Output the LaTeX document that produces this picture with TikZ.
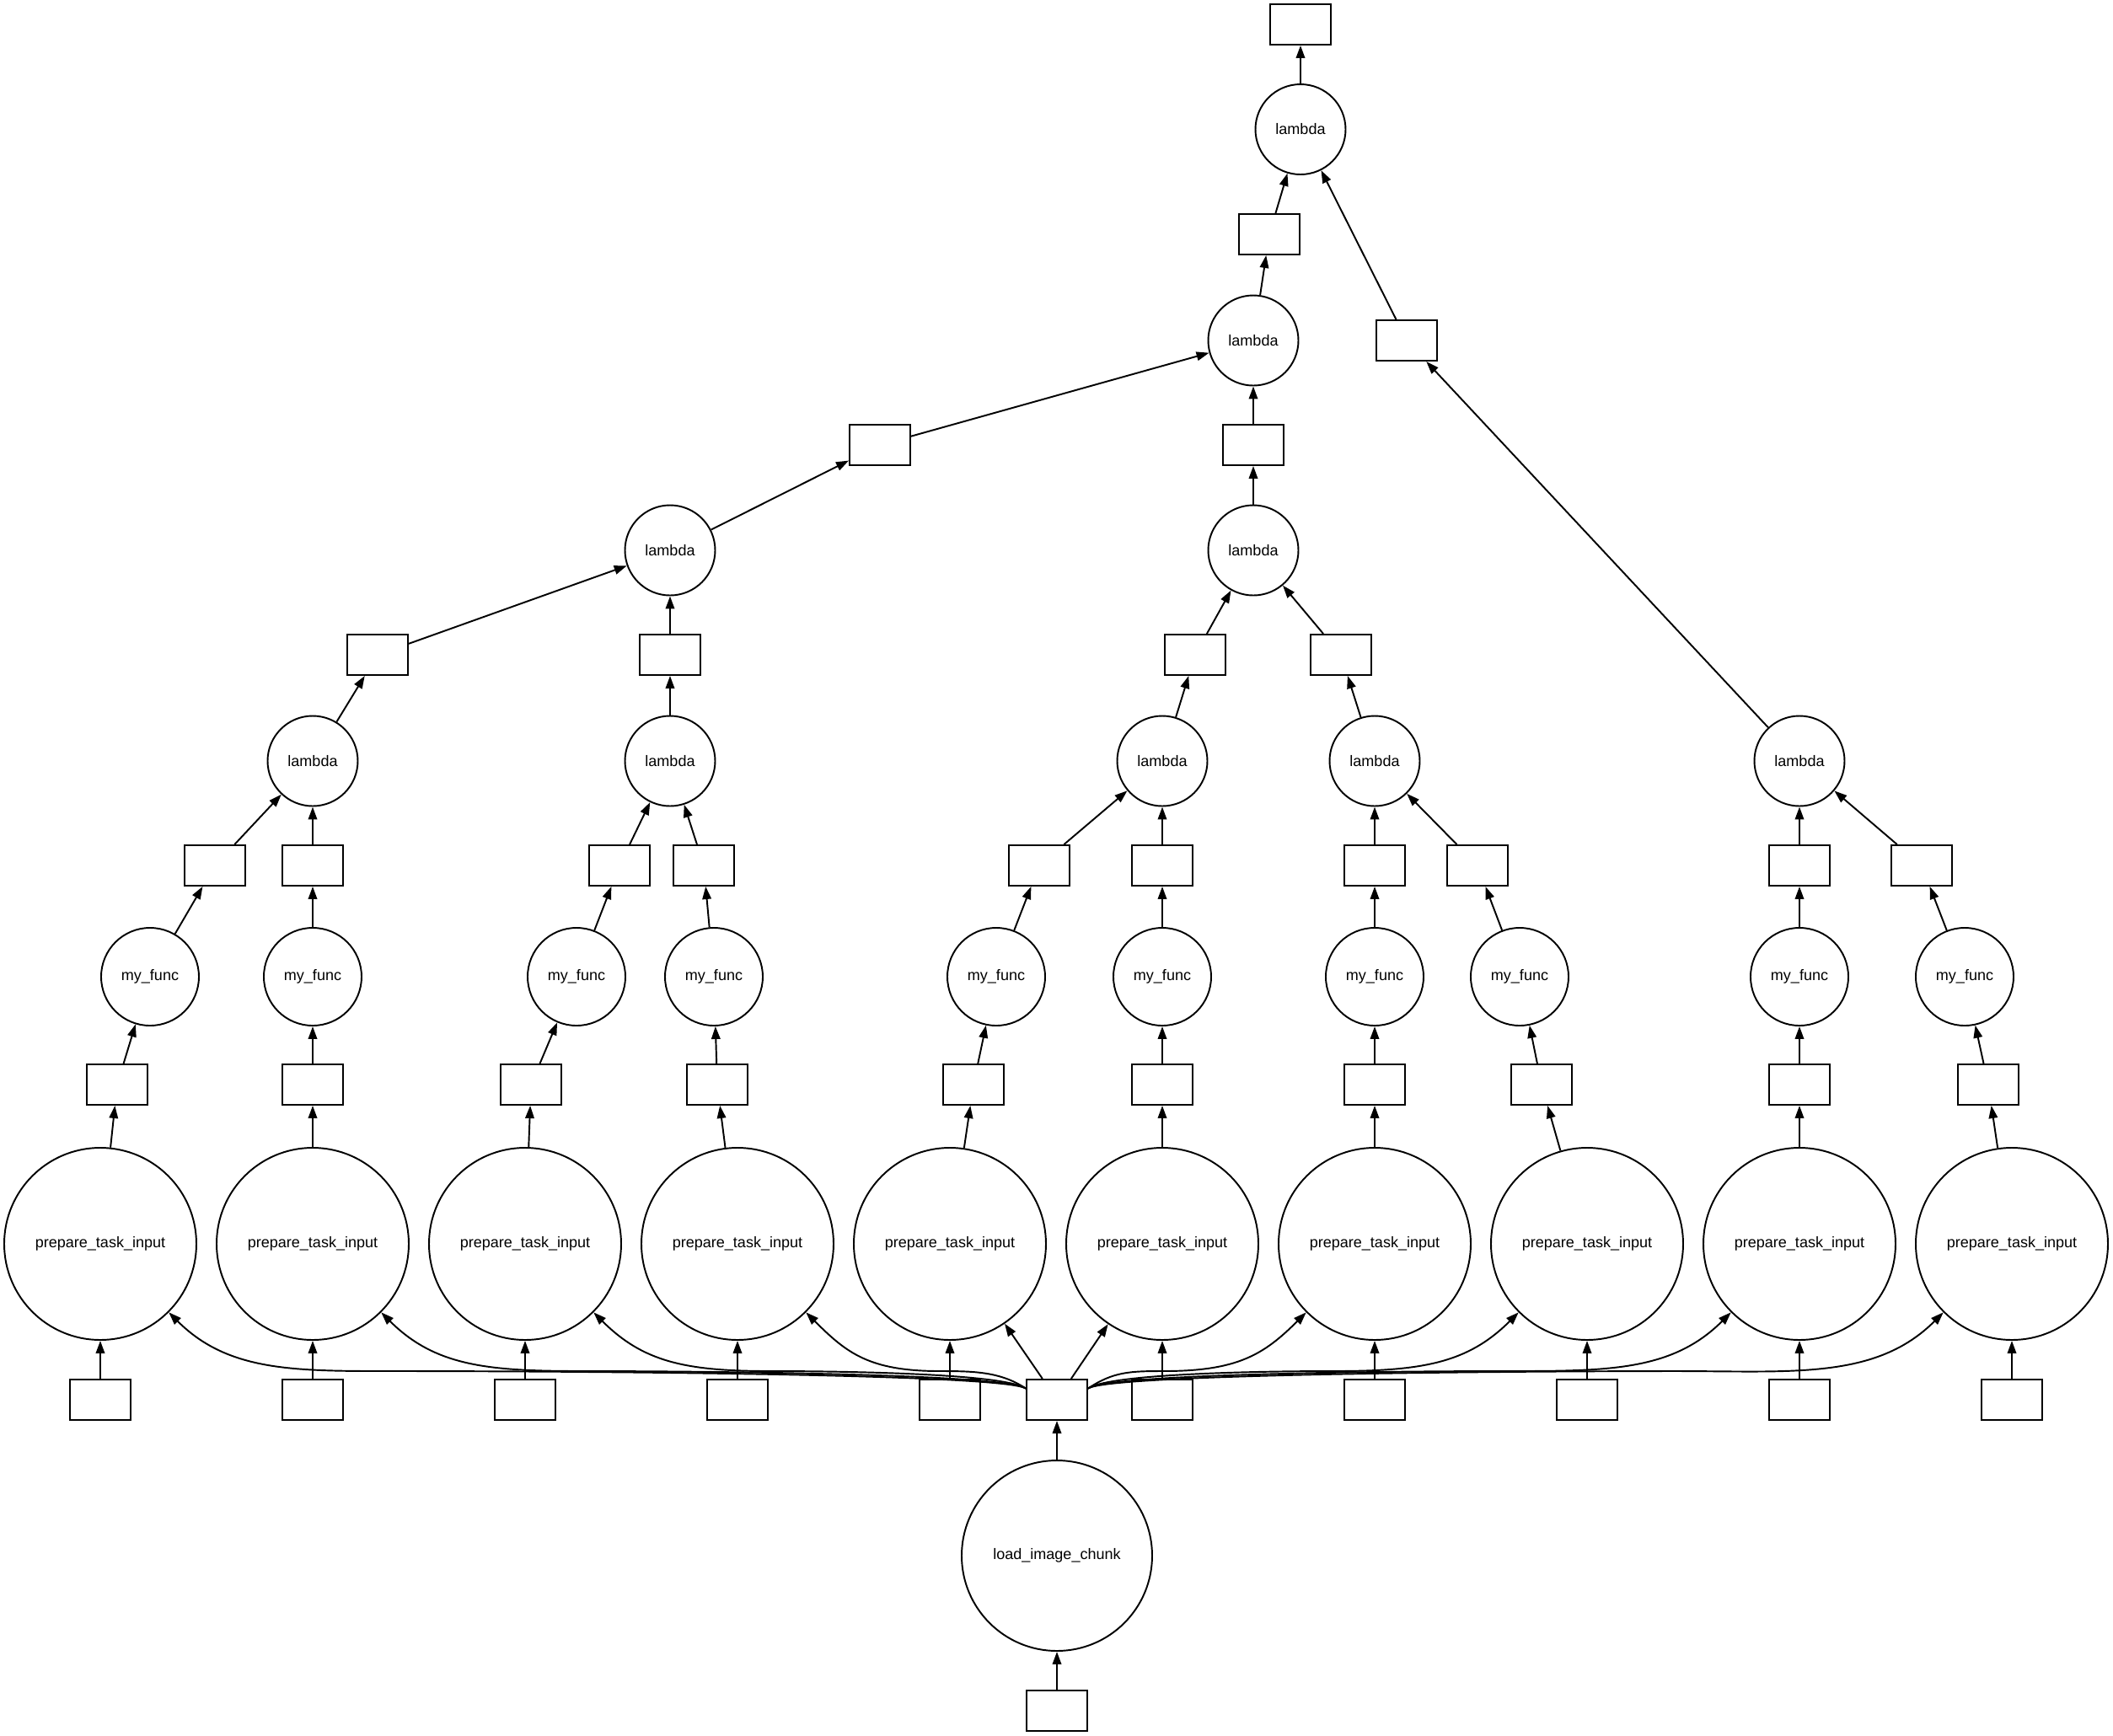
\documentclass[tikz,border=0pt]{standalone}
\usepackage{fontspec}
\setmainfont{Liberation Sans}
\usetikzlibrary{positioning, arrows.meta, calc}

% chunk から左右の prepare_task_input へ伸びる曲線
\newcommand{\fanL}[2]{%
  \draw[->] (chunk.160) .. controls +(-0.3,0.2) and +(0.4,0) .. ($(#1 |- bus)+(#2,0)$)
    .. controls +({-0.35*#2},0) and +({0.2*#2},{-0.2*#2}) .. (#1.south east);}
\newcommand{\fanR}[2]{%
  \draw[->] (chunk.20) .. controls +(0.3,0.2) and +(-0.4,0) .. ($(#1 |- bus)+(-#2,0)$)
    .. controls +({0.35*#2},0) and +({-0.2*#2},{-0.2*#2}) .. (#1.south west);}

\begin{document}
\begin{tikzpicture}[
  line width=0.55pt,
  >={Triangle[length=1.5mm, width=1.05mm]},   % 塗りつぶし三角の矢じり
  font=\fontsize{5.13}{6}\selectfont,
  box/.style={draw, rectangle, minimum width=0.72cm, minimum height=0.48cm, inner sep=0pt},
  task/.style={draw, circle, inner sep=0pt, minimum size=#1},
  task/.default=1.07cm
  ]
  \useasboundingbox (0,0) rectangle (25.07,-20.60);

  % --- 最下段: load_image_chunk ---
  \node [box] (src) at (12.54,-20.30) {};
  \node [task=2.26cm] (load) at (12.54,-18.46) {load\_image\_chunk};
  \node [box] (chunk) at (12.54,-16.61) {};
  \draw [->] (src) -- (load);
  \draw [->] (load) -- (chunk);

  % --- prepare_task_input の段 ---
  \foreach \i in {1,...,10} {
    \node [task=2.28cm] (prep\i) at ({1.19+2.52*(\i-1)},-14.76) {prepare\_task\_input};
    \node [box] (pin\i) at ({1.19+2.52*(\i-1)},-16.61) {};
    \draw [->] (pin\i) -- (prep\i);
  }

  % --- my_func の段 ---
  \foreach \i/\a/\b/\c in {1/1.39/1.78/2.55, 2/3.71/3.71/3.71, 3/6.30/6.84/7.35,
      4/8.51/8.47/8.35, 5/11.55/11.82/12.33, 6/13.79/13.79/13.79, 7/16.31/16.31/16.31,
      8/18.29/18.03/17.53, 9/21.35/21.35/21.35, 10/23.59/23.31/22.80} {
    \node [box] (pout\i) at (\a,-12.87) {};
    \node [task=1.16cm] (func\i) at (\b,-11.59) {my\_func};
    \node [box] (fout\i) at (\c,-10.27) {};
    \draw [->] (prep\i) -- (pout\i);
    \draw [->] (pout\i) -- (func\i);
    \draw [->] (func\i) -- (fout\i);
  }

  % --- lambda の段 ---
  \node [task] (lam1) at (3.71,-9.03) {lambda};
  \node [task] (lam2) at (7.95,-9.03) {lambda};
  \node [task] (lam3) at (13.79,-9.03) {lambda};
  \node [task] (lam4) at (16.31,-9.03) {lambda};
  \node [task] (lam5) at (21.35,-9.03) {lambda};
  \foreach \i/\j in {1/1, 2/1, 3/2, 4/2, 5/3, 6/3, 7/4, 8/4, 9/5, 10/5}
    \draw [->] (fout\i) -- (lam\j);

  \node [box] (lout1) at (4.48,-7.77) {};
  \node [box] (lout2) at (7.95,-7.77) {};
  \node [box] (lout3) at (14.18,-7.77) {};
  \node [box] (lout4) at (15.91,-7.77) {};
  \node [task] (lam6) at (7.95,-6.53) {lambda};
  \node [task] (lam7) at (14.87,-6.53) {lambda};
  \draw [->] (lam1) -- (lout1);
  \draw [->] (lam2) -- (lout2);
  \draw [->] (lam3) -- (lout3);
  \draw [->] (lam4) -- (lout4);
  \draw [->] (lout1) -- (lam6);
  \draw [->] (lout2) -- (lam6);
  \draw [->] (lout3) -- (lam7);
  \draw [->] (lout4) -- (lam7);

  % --- 上段 ---
  \node [box] (mid1) at (10.44,-5.28) {};
  \node [box] (mid2) at (14.87,-5.28) {};
  \node [task] (lam8) at (14.87,-4.04) {lambda};
  \node [box] (rbox) at (16.69,-4.04) {};
  \node [box] (tbox) at (15.06,-2.78) {};
  \node [task] (lam9) at (15.43,-1.535) {lambda};
  \node [box] (out) at (15.43,-0.29) {};
  \draw [->] (lam6) -- (mid1);
  \draw [->] (lam7) -- (mid2);
  \draw [->] (mid1) -- (lam8);
  \draw [->] (mid2) -- (lam8);
  \draw [->] (lam5) -- (rbox);
  \draw [->] (lam8) -- (tbox);
  \draw [->] (tbox) -- (lam9);
  \draw [->] (rbox) -- (lam9);
  \draw [->] (lam9) -- (out);

  % --- chunk から各 prepare_task_input へ ---
  \coordinate (bus) at (0,-16.27);
  \fanL{prep1}{3.6}
  \fanL{prep2}{3.2}
  \fanL{prep3}{2.9}
  \fanL{prep4}{2.4}
  \draw [->] (chunk) -- (prep5);
  \draw [->] (chunk) -- (prep6);
  \fanR{prep7}{2.5}
  \fanR{prep8}{3.0}
  \fanR{prep9}{3.5}
  \fanR{prep10}{4.0}

\end{tikzpicture}
\end{document}
